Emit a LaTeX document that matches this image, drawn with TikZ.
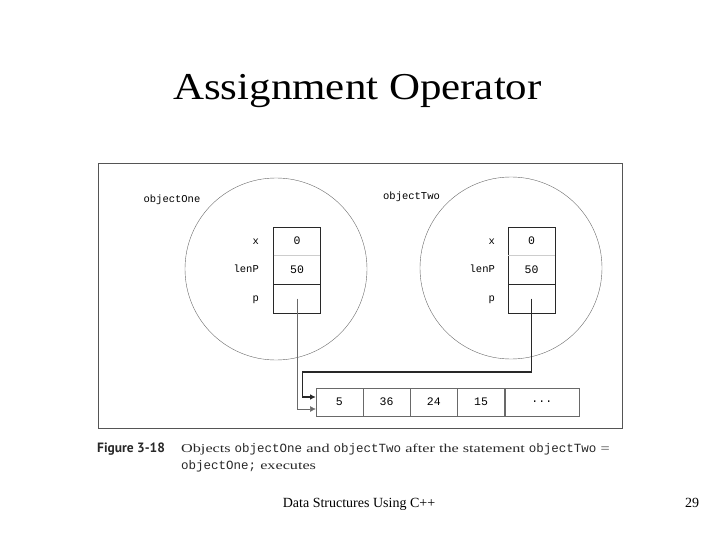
\documentclass[tikz,border=0pt]{standalone}
\usepackage{fontspec}
\setmainfont{Liberation Serif}
\setmonofont{Liberation Mono}
\newfontfamily\figsans{PT Sans}
\newfontfamily\titlefont[FakeStretch=1.13]{Liberation Serif}
\newfontfamily\capserif[FakeStretch=1.35]{Liberation Serif}
\usetikzlibrary{arrows.meta,positioning,calc}
\definecolor{framegray}{RGB}{85,85,85}
\definecolor{linegray}{RGB}{105,105,105}
\definecolor{softgray}{RGB}{205,205,205}
\definecolor{inkdark}{RGB}{40,40,40}

\begin{document}
\begin{tikzpicture}[x=1pt,y=-1pt,
obj/.style={circle,draw=linegray,thin,minimum size=182pt,inner sep=0pt},
cell/.style={minimum width=46.5pt,minimum height=28.3pt,inner sep=0pt,
font=\ttfamily\fontsize{11.5}{12}\selectfont},
acell/.style={draw=linegray,minimum width=46.8pt,minimum height=28pt,inner sep=0pt,
font=\ttfamily\fontsize{11.5}{12}\selectfont},
lbl/.style={font=\ttfamily\fontsize{10.5}{12}\selectfont,inner sep=0pt,
text height=1.6ex,text depth=.3ex},
arr/.style={-{Latex[length=2mm,width=2mm]},linegray}
]
\useasboundingbox (0,0) rectangle (720,540);
\node[font=\titlefont\fontsize{38}{40}\selectfont,anchor=base] (title) at (357.5,100) {Assignment Operator};
\draw[framegray,line width=0.8pt] (98,163) rectangle (622,428);

% the two objects
\node[obj] (one) at (276,269) {};
\node[obj] (two) at (511,268) {};
\node[lbl] (oneName) at (172,200) {objectOne};
\node[lbl] (twoName) at (411.5,197) {objectTwo};

\node[cell] (xOne) at (297,241.2) {0};
\node[cell,below=0pt of xOne] (lenOne) {50};
\node[cell,below=0pt of lenOne] (pOne) {};
\draw[inkdark] (xOne.north west) rectangle (pOne.south east);
\draw[softgray] (xOne.south west) -- (xOne.south east);
\draw[inkdark] (lenOne.south west) -- (lenOne.south east);
\node[lbl,left=14.5pt of xOne] (xOneL) {x};
\node[lbl,left=14.5pt of lenOne] (lenOneL) {lenP};
\node[lbl,left=14.5pt of pOne] (pOneL) {p};

\node[cell] (xTwo) at (531.5,241.2) {0};
\node[cell,below=0pt of xTwo] (lenTwo) {50};
\node[cell,below=0pt of lenTwo] (pTwo) {};
\draw[inkdark] (xTwo.north west) rectangle (pTwo.south east);
\draw[softgray] (xTwo.south west) -- (xTwo.south east);
\draw[inkdark] (lenTwo.south west) -- (lenTwo.south east);
\node[lbl,left=13pt of xTwo] (xTwoL) {x};
\node[lbl,left=13pt of lenTwo] (lenTwoL) {lenP};
\node[lbl,left=13pt of pTwo] (pTwoL) {p};

% the array
\node[acell] (a1) at (339.4,402) {5};
\node[acell,right=0pt of a1] (a2) {36};
\node[acell,right=0pt of a2] (a3) {24};
\node[acell,right=0pt of a3] (a4) {15};
\node[acell,right=0pt of a4,minimum width=74pt] (a5) {...};

\coordinate (inLow) at ($(a1.west)+(0,7)$);
\coordinate (inHigh) at ($(a1.west)+(0,-5)$);
\draw[arr] (pOne.center) |- (inLow);
\draw[arr,inkdark,line width=1.1pt] (pTwo.center) |- ($(inHigh)+(-13,-25)$) |- (inHigh);

% caption
\node[font=\figsans\bfseries\fontsize{13.5}{14}\selectfont,text=inkdark,anchor=base west,inner sep=0pt] (figNo) at (97,452) {Figure 3-18};
\node[font=\capserif\fontsize{12}{14}\selectfont,text=inkdark,anchor=base west,inner sep=0pt] (capOne) at (181,452)
{Objects {\ttfamily\fontsize{12.5}{14}\selectfont objectOne} and {\ttfamily\fontsize{12.5}{14}\selectfont objectTwo} after the statement {\ttfamily\fontsize{12.5}{14}\selectfont objectTwo} =};
\node[font=\capserif\fontsize{12}{14}\selectfont,text=inkdark,anchor=base west,inner sep=0pt] (capTwo) at (181,469)
{{\ttfamily\fontsize{12.5}{14}\selectfont objectOne;} executes};

\node[font=\fontsize{14}{16}\selectfont,anchor=base] (foot) at (359,507) {Data Structures Using C++};
\node[font=\fontsize{14}{16}\selectfont,anchor=base] (page) at (692,507) {29};
\end{tikzpicture}
\end{document}
